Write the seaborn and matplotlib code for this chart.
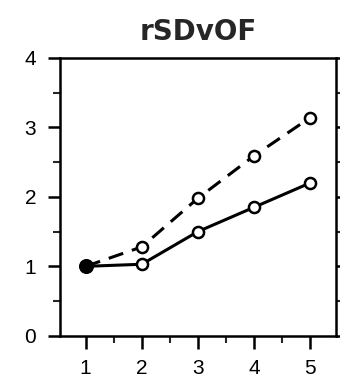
import matplotlib
matplotlib.use("Agg")
import matplotlib.pyplot as plt
import seaborn as sns
import pandas as pd
from matplotlib.ticker import MultipleLocator

sessions = [1, 2, 3, 4, 5]
solid_vals = [1.0, 1.03, 1.5, 1.85, 2.2]
dashed_vals = [1.0, 1.28, 1.98, 2.59, 3.14]
x_ticks = [1, 2, 3, 4, 5]
y_ticks = [0, 1, 2, 3, 4]
title = "rSDvOF"

sns.set_theme(style="ticks")
plt.rcParams["font.family"] = ["Liberation Sans", "DejaVu Sans"]

df_solid = pd.DataFrame({"x": sessions, "y": solid_vals})
df_dash = pd.DataFrame({"x": sessions, "y": dashed_vals})

fig = plt.figure(figsize=(3.4, 3.86), dpi=100)
ax = fig.add_axes([0.176, 0.13, 0.812, 0.72])

sns.lineplot(data=df_dash, x="x", y="y", ax=ax, color="black", lw=2.2,
             marker="o", markersize=8, markerfacecolor="white",
             markeredgecolor="black", markeredgewidth=1.8,
             linestyle=(0, (5, 3)))
sns.lineplot(data=df_solid, x="x", y="y", ax=ax, color="black", lw=2.2,
             marker="o", markersize=8, markerfacecolor="white",
             markeredgecolor="black", markeredgewidth=1.8)
sns.scatterplot(x=[sessions[0]], y=[solid_vals[0]], ax=ax, color="black",
                s=100, edgecolor="black", zorder=5)

ax.set_xlim(0.54, 5.46)
ax.set_ylim(0, 4)
ax.set_xticks(x_ticks)
ax.set_yticks(y_ticks)
ax.xaxis.set_minor_locator(MultipleLocator(0.5))
ax.yaxis.set_minor_locator(MultipleLocator(0.5))
ax.tick_params(axis="both", which="major", direction="out", length=9,
               width=1.8, labelsize=15, colors="black", pad=8)
ax.tick_params(axis="both", which="minor", direction="out", length=5,
               width=1.5)
ax.tick_params(axis="y", which="both", right=True)
for side in ["left", "bottom", "top", "right"]:
    ax.spines[side].set_visible(True)
    ax.spines[side].set_linewidth(1.8)
    ax.spines[side].set_color("black")
ax.set_xlabel("")
ax.set_ylabel("")
ax.set_title(title, fontsize=20, fontweight="bold",
             family=["DejaVu Sans"], pad=13)

fig.savefig("out.png", dpi=100, facecolor="white")
